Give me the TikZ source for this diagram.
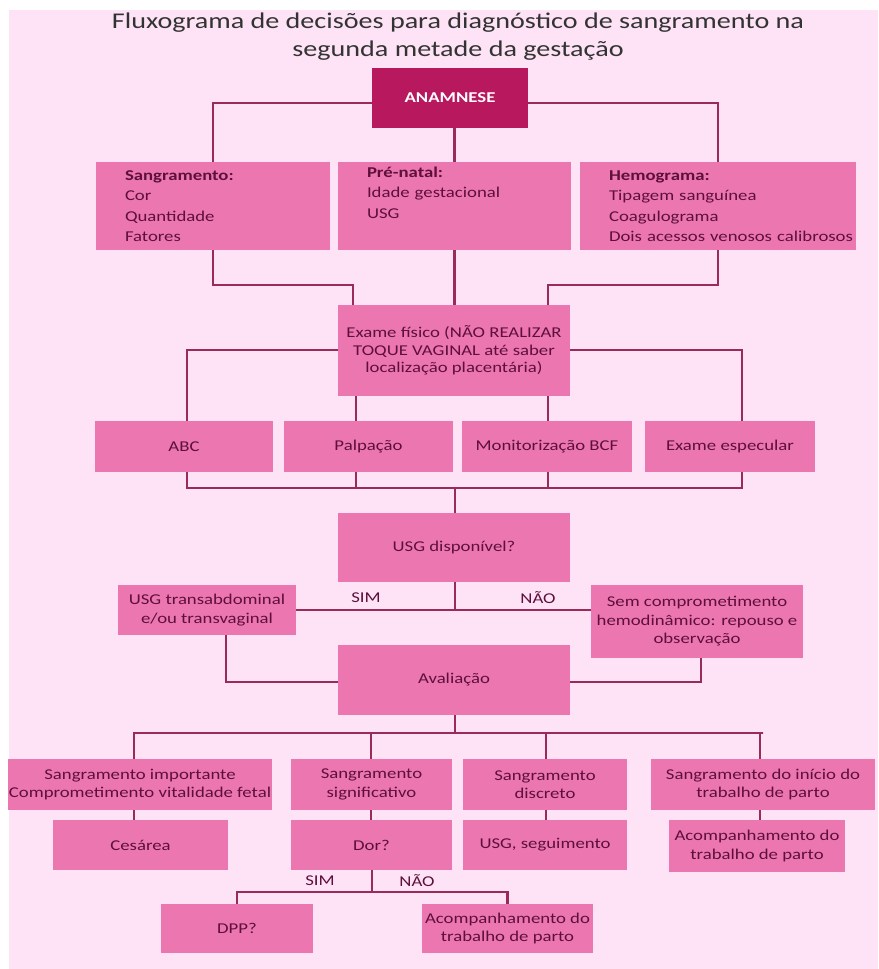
\documentclass[tikz,border=0pt]{standalone}
\usepackage{fontspec}
\setmainfont{Carlito}[FakeStretch=1.25]
\definecolor{bgpink}{HTML}{FDE3F5}
\definecolor{boxpink}{HTML}{EC77B0}
\definecolor{darkbox}{HTML}{B8185E}
\definecolor{linecol}{HTML}{9A2A58}
\definecolor{txtcol}{HTML}{5E0F3C}
\definecolor{titlecol}{HTML}{333333}
\tikzset{
  fbox/.style={fill=boxpink, draw=none, inner sep=0pt, text=txtcol, font=\fontsize{15}{18.5}\selectfont, align=center},
  lbox/.style={fbox, align=left, font=\fontsize{15}{20.5}\selectfont},
  conn/.style={draw=linecol, line width=2.6pt},
  lbl/.style={text=txtcol, font=\fontsize{15}{18}\selectfont, inner sep=0pt}
}
\begin{document}
\begin{tikzpicture}[x=1pt,y=-1pt]
\useasboundingbox (0,0) rectangle (878,969);
\fill[white] (0,0) rectangle (878,969);
\fill[bgpink] (9,10) rectangle (878,969);
% title
\node[text=titlecol, font=\fontsize{22.5}{28}\selectfont, align=center, inner sep=0pt] (title) at (458,37)
 {Fluxograma de decisões para diagnóstico de sangramento na\\segunda metade da gestação};
% ANAMNESE
\node[fill=darkbox, text=white, font=\bfseries\fontsize{15}{18}\selectfont, minimum width=156pt, minimum height=60pt, inner sep=0pt] (anam) at (450,98) {ANAMNESE};
% row 1
\node[lbox, minimum width=234pt, minimum height=88pt, text width=176pt] (sang) at (213,206)
 {\textbf{Sangramento:}\\Cor\\Quantidade\\Fatores};
\node[lbox, minimum width=233pt, minimum height=88pt, text width=175pt] (pren) at (454.5,206)
 {\textbf{Pré-natal:}\\Idade gestacional\\USG\\\strut};
\node[lbox, minimum width=276pt, minimum height=88pt, text width=218pt] (hemo) at (718,206)
 {\textbf{Hemograma:}\\Tipagem sanguínea\\Coagulograma\\\mbox{Dois acessos venosos calibrosos}};
% exame
\node[fbox, minimum width=232pt, minimum height=91pt, font=\fontsize{15}{17.5}\selectfont] (exame) at (454,350.5)
 {Exame físico (NÃO REALIZAR\\TOQUE VAGINAL até saber\\localização placentária)};
% row 2
\node[fbox, minimum width=178pt, minimum height=51pt] (abc) at (184,446.5) {ABC};
\node[fbox, minimum width=169pt, minimum height=51pt] (palp) at (368.5,446.5) {Palpação};
\node[fbox, minimum width=170pt, minimum height=51pt] (mon) at (547,446.5) {Monitorização BCF};
\node[fbox, minimum width=170pt, minimum height=51pt] (espec) at (730,446.5) {Exame especular};
% USG
\node[fbox, minimum width=232pt, minimum height=69pt] (usg) at (454,547.5) {USG disponível?};
\node[fbox, minimum width=178pt, minimum height=50pt] (usgt) at (207,610) {USG transabdominal\\e/ou transvaginal};
\node[fbox, minimum width=212pt, minimum height=73pt] (sem) at (697,621.5) {Sem comprometimento\\hemodinâmico: repouso e\\observação};
\node[fbox, minimum width=232pt, minimum height=70pt] (aval) at (454,680) {Avaliação};
% row 3
\node[fbox, minimum width=264pt, minimum height=51pt] (r3a) at (140,784.5) {Sangramento importante\\Comprometimento vitalidade fetal};
\node[fbox, minimum width=161pt, minimum height=51pt] (r3b) at (371.5,784.5) {Sangramento\\significativo};
\node[fbox, minimum width=164pt, minimum height=51pt] (r3c) at (545,784.5) {Sangramento\\discreto};
\node[fbox, minimum width=224pt, minimum height=51pt] (r3d) at (763,784.5) {Sangramento do início do\\trabalho de parto};
% row 4
\node[fbox, minimum width=175pt, minimum height=50pt] (ces) at (140.5,845) {Cesárea};
\node[fbox, minimum width=161pt, minimum height=50pt] (dor) at (371.5,845) {Dor?};
\node[fbox, minimum width=164pt, minimum height=50pt] (useg) at (545,845) {USG, seguimento};
\node[fbox, minimum width=176pt, minimum height=52pt] (acomp) at (757,846) {Acompanhamento do\\trabalho de parto};
% row 5
\node[fbox, minimum width=152pt, minimum height=49pt] (dpp) at (237,928.5) {DPP?};
\node[fbox, minimum width=171pt, minimum height=49pt] (acomp2) at (507.5,928.5) {Acompanhamento do\\trabalho de parto};
% labels
\node[lbl] (sim1) at (366,598) {SIM};
\node[lbl] (nao1) at (538,598) {NÃO};
\node[lbl] (sim2) at (320,881) {SIM};
\node[lbl] (nao2) at (417,881) {NÃO};
% connectors
\draw[conn] (anam.west |- 0,103) -| (sang.north);
\draw[conn] (anam.east |- 0,103) -| (hemo.north);
\draw[conn] (anam.south -| pren.north) -- (pren.north);
\draw[conn] (sang.south) -- (sang.south |- 0,285) -| (exame.north -| 353,0);
\draw[conn] (hemo.south) -- (hemo.south |- 0,285) -| (exame.north -| 548,0);
\draw[conn] (pren.south) -- (exame.north -| pren.south);
\draw[conn] (exame.west |- 0,350) -| (abc.north -| 187,0);
\draw[conn] (exame.east |- 0,350) -| (espec.north -| 742,0);
\draw[conn] (exame.south -| 356,0) -- (palp.north -| 356,0);
\draw[conn] (exame.south -| 548,0) -- (mon.north -| 548,0);
\draw[conn] (abc.south -| 187,0) -- (187,488) -- (742,488) -- (espec.south -| 742,0);
\draw[conn] (palp.south -| 356,0) -- (356,488);
\draw[conn] (mon.south -| 548,0) -- (548,488);
\draw[conn] (455,488) -- (usg.north -| 455,0);
\draw[conn] (usg.south -| 455,0) -- (455,610);
\draw[conn] (usgt.east |- 0,610) -- (sem.west |- 0,610);
\draw[conn] (usgt.south -| 226,0) |- (aval.west |- 0,682);
\draw[conn] (sem.south -| 701,0) |- (aval.east |- 0,682);
\draw[conn] (aval.south -| 455,0) -- (455,733);
\draw[conn] (r3a.north -| 134,0) |- (r3d.north |- 0,733) -| (r3d.north -| 760,0);
\draw[conn] (r3b.north -| 371,0) -- (371,733);
\draw[conn] (r3c.north -| 546,0) -- (546,733);
\draw[conn] (r3a.south -| 134,0) -- (ces.north -| 134,0);
\draw[conn] (r3b.south -| 371,0) -- (dor.north -| 371,0);
\draw[conn] (r3c.south -| 546,0) -- (useg.north -| 546,0);
\draw[conn] (r3d.south -| 760,0) -- (acomp.north -| 760,0);
\draw[conn] (dor.south -| 372,0) -- (372,892);
\draw[conn] (dpp.north) |- (372,892) -| (acomp2.north);
\end{tikzpicture}
\end{document}
